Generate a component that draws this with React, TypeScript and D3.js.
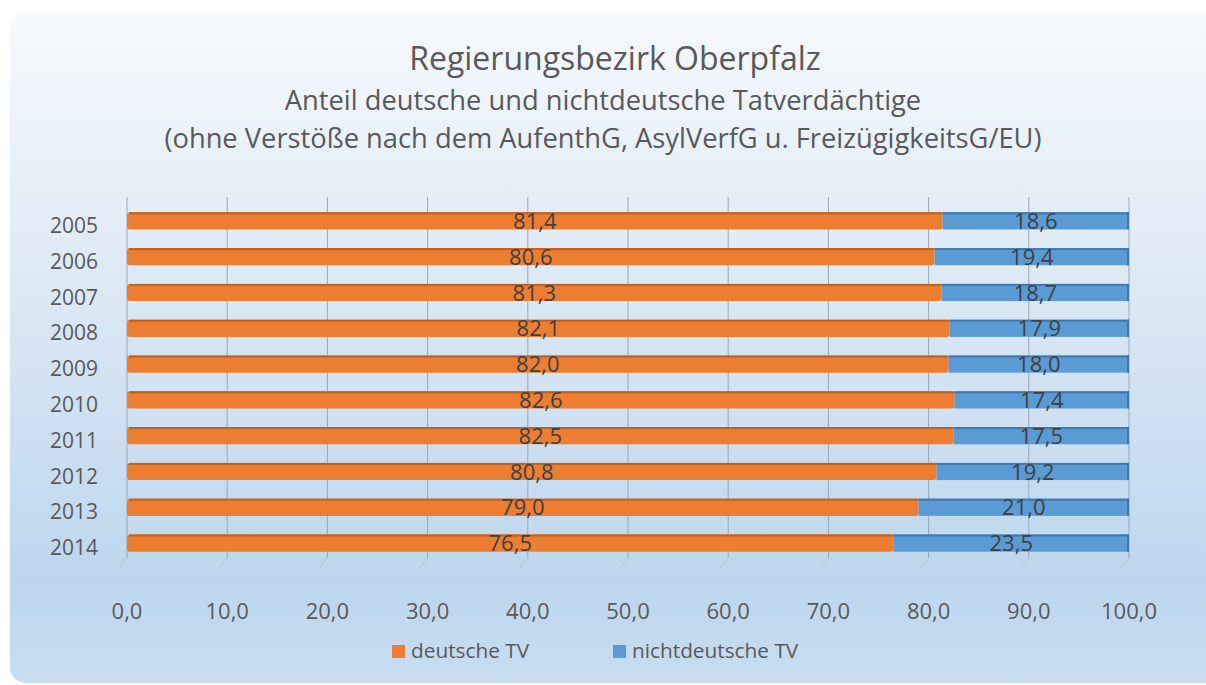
import React from "react";
import * as d3 from "d3";

const years = ["2005", "2006", "2007", "2008", "2009", "2010", "2011", "2012", "2013", "2014"];
const deutsche = [81.4, 80.6, 81.3, 82.1, 82.0, 82.6, 82.5, 80.8, 79.0, 76.5];
const nichtdeutsche = [18.6, 19.4, 18.7, 17.9, 18.0, 17.4, 17.5, 19.2, 21.0, 23.5];
const xTicks = [0, 10, 20, 30, 40, 50, 60, 70, 80, 90, 100];
const seriesNames = ["deutsche TV", "nichtdeutsche TV"];
const colors = ["#ed7d31", "#5b9bd5"];
const darkColors = ["#c0601e", "#3e78ad"];

const W = 1206;
const H = 685;
const font = "'Open Sans', sans-serif";
const fmt = (v: number) => v.toFixed(1).replace(".", ",");

export default function App() {
  const x = d3.scaleLinear().domain([0, 100]).range([127, 1129]);
  const y = d3.scaleBand().domain(years).range([203, 561]).paddingInner(0.52).paddingOuter(0.26);
  const bh = y.bandwidth();

  return (
    <svg width={W} height={H} style={{ position: "absolute", left: 0, top: 0 }}>
      <defs>
        <linearGradient id="bg" x1="0" y1="0" x2="0" y2="1">
          <stop offset="0" stopColor="#f6f9fc" />
          <stop offset="0.35" stopColor="#e0ebf6" />
          <stop offset="0.85" stopColor="#bdd6ed" />
          <stop offset="1" stopColor="#c8ddf0" />
        </linearGradient>
      </defs>
      <rect x={0} y={0} width={W} height={H} fill="#ffffff" />
      <rect x={10} y={13} width={1210} height={670} rx={16} ry={16} fill="url(#bg)" />

      <text x={615} y={70} textAnchor="middle" fontFamily={font} fontSize={32} fill="#595959">
        Regierungsbezirk Oberpfalz
      </text>
      <text x={603} y={110} textAnchor="middle" fontFamily={font} fontSize={27.3} fill="#595959">
        Anteil deutsche und nichtdeutsche Tatverdächtige
      </text>
      <text x={603} y={148} textAnchor="middle" fontFamily={font} fontSize={27.3} fill="#595959">
        (ohne Verstöße nach dem AufenthG, AsylVerfG u. FreizügigkeitsG/EU)
      </text>

      {/* gridlines */}
      {xTicks.map((t) => (
        <g key={"g" + t}>
          <line x1={x(t)} x2={x(t)} y1={197} y2={558} stroke="#9aa7b4" strokeWidth={1} />
          <line x1={x(t)} x2={x(t) - 8} y1={558} y2={568} stroke="#b8c4d0" strokeWidth={1} />
        </g>
      ))}

      {/* bars */}
      {years.map((yr, i) => {
        const y0 = y(yr)!;
        const a = deutsche[i];
        const b = nichtdeutsche[i];
        return (
          <g key={yr}>
            <rect x={x(0)} y={y0} width={x(a) - x(0)} height={bh} rx={3} fill={colors[0]} />
            <rect x={x(0) + 2} y={y0} width={x(a) - x(0) - 2} height={2} fill={darkColors[0]} />
            <rect x={x(a)} y={y0} width={x(a + b) - x(a)} height={bh} fill={colors[1]} />
            <rect x={x(a)} y={y0} width={x(a + b) - x(a)} height={2} fill={darkColors[1]} />
            <rect x={x(a + b) - 2} y={y0} width={2} height={bh} fill={darkColors[1]} />
            <text x={x(a / 2)} y={y0 + bh / 2 + 8} textAnchor="middle" fontFamily={font} fontSize={22} fill="#404040">
              {fmt(a)}
            </text>
            <text x={x(a + b / 2)} y={y0 + bh / 2 + 8} textAnchor="middle" fontFamily={font} fontSize={22} fill="#404040">
              {fmt(b)}
            </text>
            <text x={98} y={y0 + bh / 2 + 12} textAnchor="end" fontFamily={font} fontSize={21} fill="#595959">
              {yr}
            </text>
          </g>
        );
      })}

      {/* x axis labels */}
      {xTicks.map((t) => (
        <text key={"t" + t} x={x(t)} y={619} textAnchor="middle" fontFamily={font} fontSize={22} fill="#595959">
          {fmt(t)}
        </text>
      ))}

      {/* legend */}
      {seriesNames.map((s, i) => {
        const lx = [392, 613][i];
        return (
          <g key={s}>
            <rect x={lx} y={645} width={13} height={13} fill={colors[i]} />
            <text x={lx + 19} y={658} fontFamily={font} fontSize={20.8} fill="#595959">
              {s}
            </text>
          </g>
        );
      })}
    </svg>
  );
}
